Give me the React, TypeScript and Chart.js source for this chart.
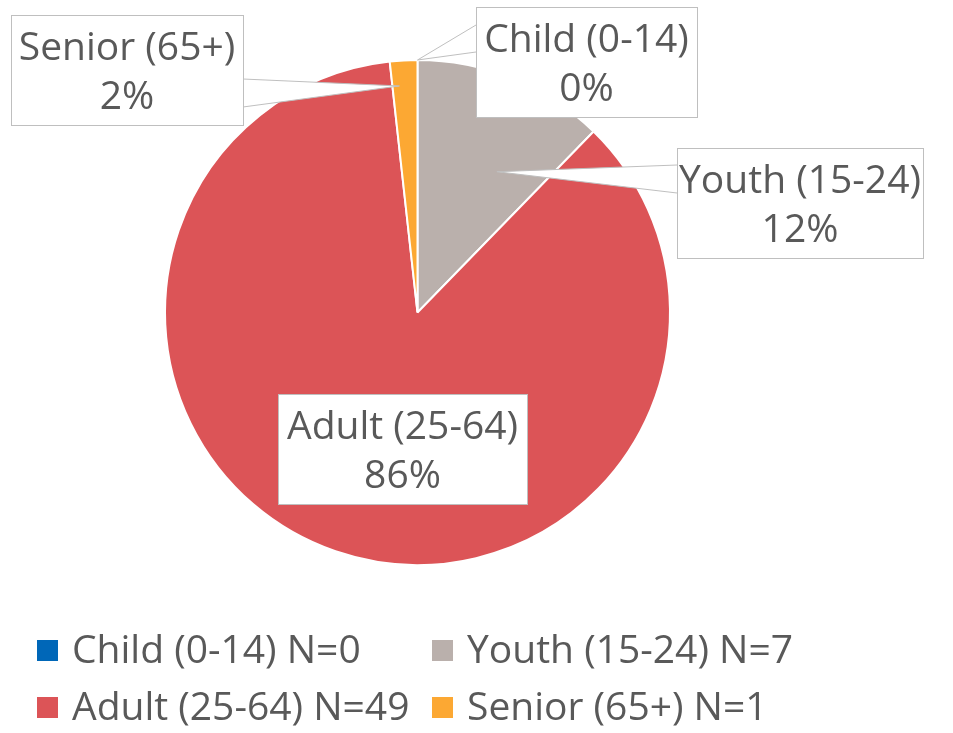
import React, { useEffect, useRef } from "react";
import { Chart, registerables } from "chart.js";

Chart.register(...registerables);

const categories = ["Child (0-14)", "Youth (15-24)", "Adult (25-64)", "Senior (65+)"];
const counts = [0, 7, 49, 1];
const sliceColors = ["#0067B8", "#BAB0AC", "#DC5457", "#FCA833"];

const FONT = "39px 'Open Sans'";
const TEXT_COLOR = "#595959";
const BOX_BORDER = "#BFBFBF";

// callout layout (box placement + wedge pointer), per category
const callouts = [
  { cx: 586.5, top: 7, w: 221, side: "left", b0: 18, b1: 45, angOff: 0, rFrac: 1.0 },
  { cx: 800, top: 148, w: 242, side: "left", b0: 17, b1: 45, angOff: 7.3, rFrac: 0.64 },
  { cx: 402.5, top: 394, w: 249, side: "none", b0: 0, b1: 0, angOff: 0, rFrac: 0 },
  { cx: 127, top: 15, w: 232, side: "right", b0: 64, b1: 92, angOff: -1.4, rFrac: 0.9 },
];

const legendCols = [37, 432];
const legendRows = [663, 720];

const calloutPlugin = {
  id: "callouts",
  afterDraw(chart: any) {
    const ctx: CanvasRenderingContext2D = chart.ctx;
    const meta = chart.getDatasetMeta(0);
    const total = counts.reduce((a, b) => a + b, 0);
    ctx.save();
    ctx.font = FONT;
    meta.data.forEach((arc: any, i: number) => {
      const p = arc.getProps(["x", "y", "startAngle", "endAngle", "outerRadius"], true);
      const c = callouts[i];
      const line1 = categories[i];
      const line2 = Math.round((counts[i] / total) * 100) + "%";
      const w = Math.max(c.w, Math.max(ctx.measureText(line1).width, ctx.measureText(line2).width) + 4);
      const h = 110;
      const left = c.cx - w / 2;
      const right = c.cx + w / 2;
      const top = c.top;
      if (c.side !== "none") {
        const mid = (p.startAngle + p.endAngle) / 2 + (c.angOff * Math.PI) / 180;
        const ax = p.x + Math.cos(mid) * p.outerRadius * c.rFrac;
        const ay = p.y + Math.sin(mid) * p.outerRadius * c.rFrac;
        const ex = c.side === "left" ? left : right;
        ctx.beginPath();
        ctx.moveTo(ex, top + c.b0);
        ctx.lineTo(ax, ay);
        ctx.lineTo(ex, top + c.b1);
        ctx.closePath();
        ctx.fillStyle = "#FFFFFF";
        ctx.fill();
        ctx.beginPath();
        ctx.moveTo(ex, top + c.b0);
        ctx.lineTo(ax, ay);
        ctx.lineTo(ex, top + c.b1);
        ctx.strokeStyle = BOX_BORDER;
        ctx.lineWidth = 1;
        ctx.stroke();
      }
      ctx.fillStyle = "#FFFFFF";
      ctx.fillRect(left, top, w, h);
      ctx.strokeStyle = BOX_BORDER;
      ctx.lineWidth = 1;
      ctx.strokeRect(Math.round(left) + 0.5, Math.round(top) + 0.5, Math.round(w), h);
      ctx.fillStyle = TEXT_COLOR;
      ctx.textAlign = "center";
      ctx.textBaseline = "alphabetic";
      ctx.fillText(line1, c.cx, top + 45);
      ctx.fillText(line2, c.cx, top + 94);
    });

    // legend
    ctx.textAlign = "left";
    ctx.textBaseline = "alphabetic";
    categories.forEach((cat, i) => {
      const col = i % 2;
      const row = Math.floor(i / 2);
      const x = legendCols[col];
      const base = legendRows[row];
      ctx.fillStyle = sliceColors[i];
      ctx.fillRect(x, base - 23, 21, 21);
      ctx.fillStyle = TEXT_COLOR;
      ctx.fillText(`${cat} N=${counts[i]}`, x + 35, base);
    });
    ctx.restore();
  },
};

export default function App() {
  const ref = useRef<HTMLCanvasElement | null>(null);
  useEffect(() => {
    if (!ref.current) return;
    const chart = new Chart(ref.current, {
      type: "pie",
      data: {
        labels: categories,
        datasets: [
          {
            data: counts,
            backgroundColor: sliceColors,
            borderColor: "#FFFFFF",
            borderWidth: 2,
          },
        ],
      },
      options: {
        responsive: false,
        animation: false,
        layout: { padding: { top: 59, bottom: 167, left: 164, right: 282 } },
        plugins: {
          legend: { display: false },
          tooltip: { enabled: false },
        },
      },
      plugins: [calloutPlugin],
    });
    return () => chart.destroy();
  }, []);
  return (
    <div style={{ position: "absolute", left: 0, top: 0, width: 953, height: 733, background: "#fff" }}>
      <canvas ref={ref} width={953} height={733} />
    </div>
  );
}
